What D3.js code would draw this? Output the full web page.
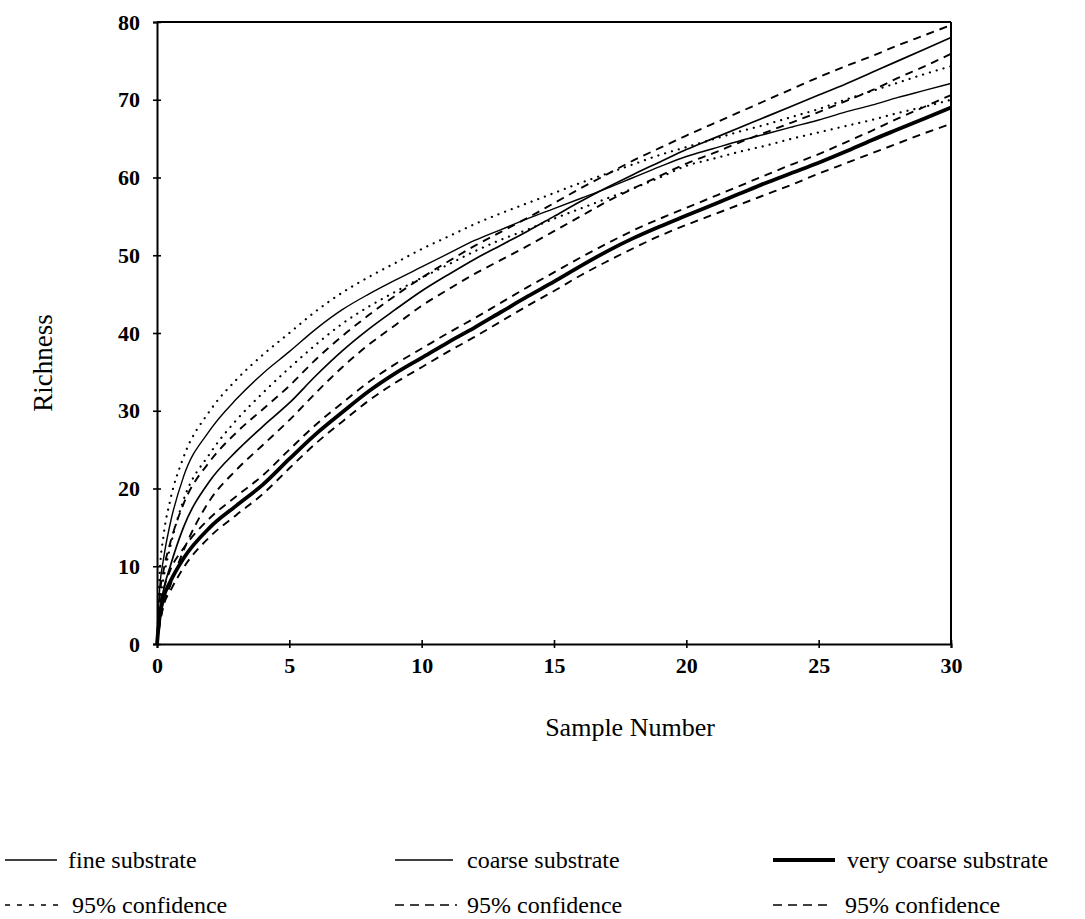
<!DOCTYPE html>
<html>
<head>
<meta charset="utf-8">
<script src="https://cdn.jsdelivr.net/npm/d3@7"></script>
<style>
  body { margin: 0; background: #fff; }
  text { font-family: "Liberation Serif", "Times New Roman", serif; fill: #000; }
</style>
</head>
<body>
<svg id="chart"></svg>
<script>
// sample numbers at which the curves were read
const sampleX = [0, 0.1, 0.25, 0.5, 1, 2, 3, 4, 5, 6, 7, 8, 9, 10, 11, 12, 13, 14, 15, 16, 17, 18, 19, 20, 21, 22, 23, 24, 25, 26, 27, 28, 29, 30];

const fine = [0, 7, 11, 15.5, 21.5, 27.5, 31.5, 34.8, 37.6, 40.5, 43, 45, 46.8, 48.5, 50.2, 51.9, 53.3, 54.7, 56, 57.3, 58.6, 60, 61.4, 62.7, 63.7, 64.7, 65.6, 66.5, 67.4, 68.4, 69.3, 70.3, 71.2, 72.1];
const fineHi = [0, 9, 14, 18.5, 24, 30, 34, 37.2, 40, 42.8, 45.2, 47.2, 49, 50.8, 52.4, 54, 55.4, 56.7, 58, 59.3, 60.5, 61.7, 62.9, 63.9, 64.9, 65.9, 66.8, 67.8, 68.8, 70, 71.1, 72.2, 73.3, 74.3];
const fineLo = [0, 5, 8.5, 12.5, 18.5, 24.5, 28.8, 32.3, 35.5, 38.5, 41.2, 43.4, 45.3, 47.1, 48.8, 50.5, 52, 53.3, 54.7, 56, 57.3, 58.6, 60, 61.5, 62.4, 63.3, 64.1, 65, 65.8, 66.6, 67.4, 68.3, 69.1, 70];

const coarse = [0, 4, 7, 10, 15, 21, 24.8, 28, 31, 34.5, 37.7, 40.5, 43, 45.4, 47.5, 49.5, 51.3, 53.1, 55, 56.9, 58.7, 60.4, 62, 63.6, 65, 66.4, 67.8, 69.2, 70.6, 72, 73.5, 75, 76.5, 78];
const coarseHi = [0, 6, 9.5, 13, 18, 23.5, 27.2, 30.2, 33.2, 36.6, 39.6, 42.3, 44.8, 47.1, 49.2, 51.2, 53, 54.8, 56.7, 58.6, 60.4, 62.2, 63.8, 65.4, 66.9, 68.4, 69.9, 71.4, 72.9, 74.3, 75.6, 77, 78.3, 79.6];
const coarseLo = [0, 2.5, 5, 7.5, 12, 18.5, 22.4, 25.6, 28.8, 32.3, 35.6, 38.5, 41, 43.5, 45.6, 47.6, 49.4, 51.2, 53.1, 55, 56.9, 58.6, 60.2, 61.8, 63.1, 64.5, 65.8, 67.1, 68.4, 69.8, 71.2, 72.8, 74.3, 75.9];

const veryCoarse = [0, 3.5, 6, 8, 11, 15, 17.8, 20.5, 23.8, 27, 29.8, 32.5, 34.8, 36.8, 38.8, 40.7, 42.7, 44.7, 46.6, 48.6, 50.5, 52.2, 53.7, 55.1, 56.5, 57.9, 59.3, 60.6, 61.9, 63.3, 64.8, 66.2, 67.6, 69];
const veryCoarseHi = [0, 4.5, 7, 9.5, 12.3, 16.2, 19, 21.7, 25, 28.2, 31, 33.7, 36, 38, 40, 41.9, 43.9, 45.9, 47.8, 49.7, 51.5, 53.2, 54.7, 56.1, 57.5, 58.9, 60.3, 61.7, 63, 64.5, 66, 67.6, 69.1, 70.6];
const veryCoarseLo = [0, 2.5, 5, 6.8, 9.8, 13.8, 16.6, 19.3, 22.6, 25.8, 28.6, 31.3, 33.6, 35.6, 37.6, 39.5, 41.5, 43.5, 45.4, 47.4, 49.2, 50.9, 52.5, 53.9, 55.2, 56.5, 57.8, 59.1, 60.5, 61.8, 63.1, 64.4, 65.7, 66.9];

const xTicks = [0, 5, 10, 15, 20, 25, 30];
const yTicks = [0, 10, 20, 30, 40, 50, 60, 70, 80];

const legendRow1 = ["fine substrate", "coarse substrate", "very coarse substrate"];
const legendRow2 = ["95% confidence", "95% confidence", "95% confidence"];

let width = 1085;
let height = 919;
let margin = { left: 157, top: 22, right: 134, bottom: 275 };
let plotW = width - margin.left - margin.right;
let plotH = height - margin.top - margin.bottom;

// line styles for each kind of curve
const solidThin = { w: 1.4, dash: null, cap: "butt" };
const solidMid = { w: 1.7, dash: null, cap: "butt" };
const solidThick = { w: 3.8, dash: null, cap: "butt" };
const dotted = { w: 2.2, dash: "0.1,7", cap: "round" };
const dashed = { w: 1.9, dash: "8,6", cap: "butt" };

let svg = d3.select("#chart")
  .attr("width", width)
  .attr("height", height);

let g = svg.append("g")
  .attr("transform", "translate(" + margin.left + "," + margin.top + ")");

let x = d3.scaleLinear().domain([0, 30]).range([0, plotW]);
let y = d3.scaleLinear().domain([0, 80]).range([plotH, 0]);

// frame on top and right
g.append("line").attr("x1", 0).attr("x2", plotW).attr("y1", 0).attr("y2", 0)
  .attr("stroke", "#000").attr("stroke-width", 2);
g.append("line").attr("x1", plotW).attr("x2", plotW).attr("y1", 0).attr("y2", plotH)
  .attr("stroke", "#000").attr("stroke-width", 2);

let xAxis = g.append("g")
  .attr("transform", "translate(0," + plotH + ")")
  .call(d3.axisBottom(x).tickValues(xTicks).tickSizeOuter(0).tickSize(4).tickPadding(9));

let yAxis = g.append("g")
  .call(d3.axisLeft(y).tickValues(yTicks).tickSizeOuter(0).tickSize(4).tickPadding(13));

// ticks cross the axis line
xAxis.selectAll(".tick line").attr("y1", -4).attr("y2", 4);
yAxis.selectAll(".tick line").attr("x1", 4).attr("x2", -4);

[xAxis, yAxis].forEach(function (a) {
  a.select(".domain").attr("stroke-width", 2);
  a.selectAll(".tick line").attr("stroke-width", 1.6);
  a.selectAll("text")
    .style("font-family", "'Liberation Serif', serif")
    .style("font-weight", "bold")
    .style("font-size", "22px");
});

// axis titles
svg.append("text")
  .attr("x", 630)
  .attr("y", 736)
  .attr("text-anchor", "middle")
  .style("font-size", "26px")
  .text("Sample Number");

svg.append("text")
  .attr("transform", "translate(52,363)rotate(-90)")
  .attr("text-anchor", "middle")
  .style("font-size", "27px")
  .text("Richness");

let line = d3.line()
  .x(function (d) { return x(d[0]); })
  .y(function (d) { return y(d[1]); })
  .curve(d3.curveMonotoneX);

const series = [
  { values: fineHi, style: dotted },
  { values: fineLo, style: dotted },
  { values: coarseHi, style: dashed },
  { values: coarseLo, style: dashed },
  { values: veryCoarseHi, style: dashed },
  { values: veryCoarseLo, style: dashed },
  { values: fine, style: solidThin },
  { values: coarse, style: solidMid },
  { values: veryCoarse, style: solidThick }
];

g.selectAll(".curve")
  .data(series)
  .enter().append("path")
  .attr("class", "curve")
  .attr("fill", "none")
  .attr("stroke", "#000")
  .attr("stroke-width", function (d) { return d.style.w; })
  .attr("stroke-dasharray", function (d) { return d.style.dash; })
  .attr("stroke-linecap", function (d) { return d.style.cap; })
  .attr("d", function (d) { return line(sampleX.map(function (v, i) { return [v, d.values[i]]; })); });

// legend: three columns, two rows
const legendCols = [
  { lx: 5, sw: 52, tx1: 68, sw2: 58, tx2: 72, top: solidThin, bottom: { w: 1.5, dash: "5,7", cap: "butt" } },
  { lx: 395, sw: 58, tx1: 467, sw2: 62, tx2: 467, top: solidMid, bottom: { w: 1.6, dash: "9,6", cap: "butt" } },
  { lx: 773, sw: 62, tx1: 847, sw2: 60, tx2: 845, top: solidThick, bottom: { w: 1.6, dash: "9,6", cap: "butt" } }
];

let legend = svg.append("g");
legendCols.forEach(function (c, i) {
  legend.append("line")
    .attr("x1", c.lx).attr("x2", c.lx + c.sw)
    .attr("y1", 860).attr("y2", 860)
    .attr("stroke", "#000").attr("stroke-width", c.top.w);
  legend.append("text")
    .attr("x", c.tx1).attr("y", 868)
    .style("font-size", "24px")
    .text(legendRow1[i]);
  legend.append("line")
    .attr("x1", c.lx).attr("x2", c.lx + c.sw2)
    .attr("y1", 905).attr("y2", 905)
    .attr("stroke", "#000").attr("stroke-width", c.bottom.w)
    .attr("stroke-dasharray", c.bottom.dash);
  legend.append("text")
    .attr("x", c.tx2).attr("y", 913)
    .style("font-size", "24px")
    .text(legendRow2[i]);
});
</script>
</body>
</html>
